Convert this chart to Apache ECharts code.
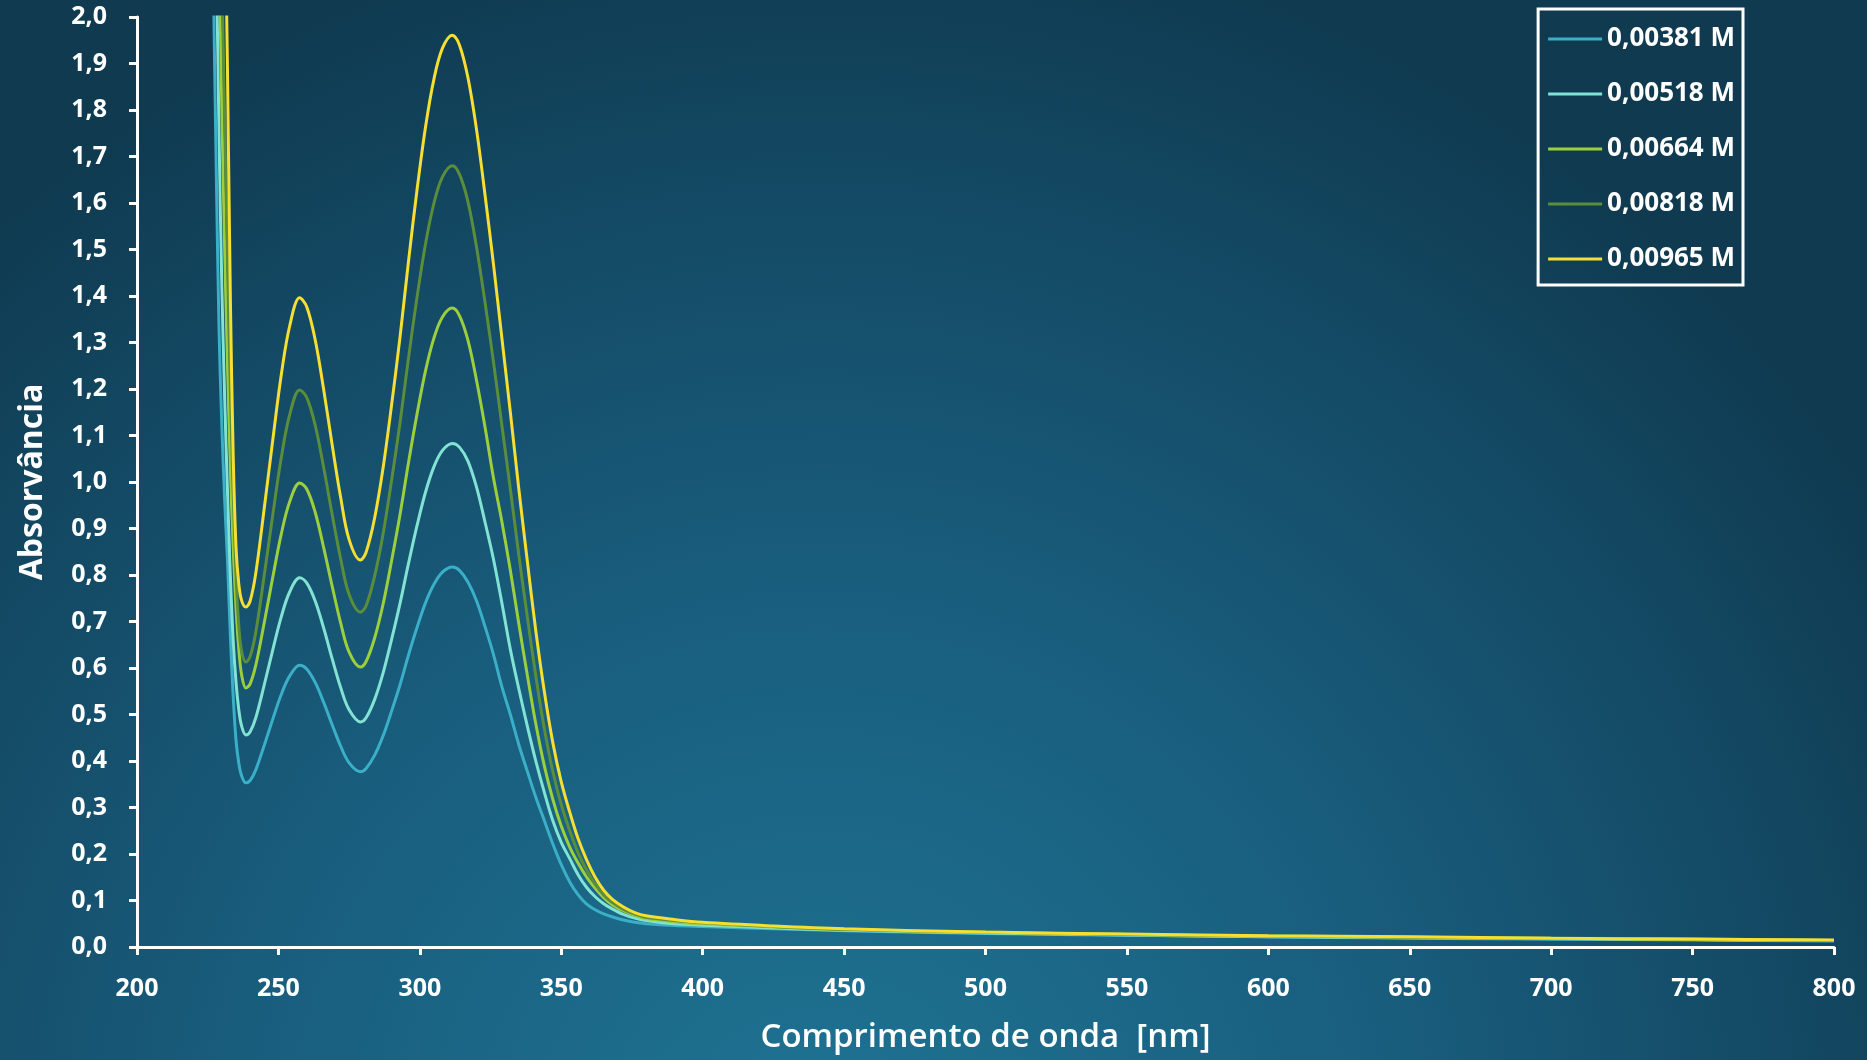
<!DOCTYPE html>
<html>
<head>
<meta charset="utf-8">
<script src="https://cdn.jsdelivr.net/npm/echarts@6/dist/echarts.min.js"></script>
<style>
html,body{margin:0;padding:0;width:100%;height:100%;overflow:hidden;}
#chart{width:1867px;height:1060px;}
</style>
</head>
<body>
<div id="chart"></div>
<script>
// wavelengths (nm)
const wavelengths = [226,227,228,229,230,231,232,233,234,235,236,237,238.5,240,242,245,248,251,254,257.5,260,263,266,269,272,275,279,281,284,287,290,293,296,299,302,305,308,311.5,314,317,320,323,326,329,332,335,338,341,344,347,350,353,356,359,362,365,368,372,376,380,390,400,425,450,500,550,600,650,700,750,800];

const seriesNames = ['0,00381 M','0,00518 M','0,00664 M','0,00818 M','0,00965 M'];

const abs00381 = [2.5,2.08,1.68,1.33,1.12,0.96,0.83,0.67,0.54,0.445,0.395,0.368,0.353,0.358,0.381,0.434,0.49,0.543,0.583,0.606,0.598,0.569,0.526,0.478,0.432,0.396,0.377,0.384,0.412,0.454,0.507,0.564,0.628,0.687,0.74,0.78,0.806,0.817,0.81,0.785,0.745,0.69,0.63,0.56,0.50,0.435,0.378,0.322,0.272,0.222,0.177,0.14,0.112,0.092,0.08,0.071,0.065,0.058,0.053,0.05,0.046,0.044,0.039,0.035,0.029,0.025,0.022,0.019,0.017,0.015,0.013];

const abs00518 = [3.0,2.5,2.15,1.75,1.42,1.18,0.98,0.8,0.66,0.57,0.51,0.475,0.456,0.463,0.493,0.564,0.639,0.71,0.764,0.794,0.783,0.744,0.686,0.62,0.558,0.51,0.484,0.493,0.532,0.589,0.661,0.739,0.825,0.906,0.978,1.033,1.068,1.083,1.075,1.045,0.99,0.915,0.835,0.74,0.64,0.555,0.475,0.40,0.333,0.272,0.225,0.19,0.155,0.128,0.108,0.093,0.082,0.07,0.062,0.057,0.05,0.047,0.041,0.036,0.03,0.026,0.022,0.02,0.018,0.016,0.014];

const abs00664 = [3.0,3.0,2.5,2.15,1.8,1.5,1.25,1.03,0.86,0.73,0.64,0.585,0.557,0.566,0.606,0.698,0.795,0.888,0.958,0.998,0.985,0.935,0.859,0.776,0.697,0.634,0.602,0.614,0.664,0.737,0.83,0.93,1.042,1.146,1.239,1.31,1.355,1.374,1.358,1.305,1.22,1.12,1.01,0.915,0.81,0.695,0.585,0.48,0.39,0.318,0.26,0.215,0.18,0.15,0.126,0.106,0.091,0.078,0.068,0.061,0.054,0.05,0.043,0.037,0.031,0.027,0.023,0.021,0.019,0.016,0.014];

const abs00818 = [3.0,3.0,3.0,2.45,2.1,1.78,1.48,1.2,0.98,0.8,0.69,0.635,0.613,0.625,0.677,0.8,0.929,1.052,1.145,1.198,1.182,1.122,1.031,0.93,0.835,0.758,0.72,0.734,0.797,0.888,1.003,1.128,1.267,1.397,1.512,1.6,1.656,1.68,1.662,1.603,1.507,1.388,1.26,1.122,0.985,0.843,0.71,0.583,0.47,0.378,0.306,0.25,0.202,0.165,0.135,0.112,0.096,0.081,0.071,0.064,0.057,0.052,0.044,0.038,0.032,0.027,0.024,0.021,0.019,0.017,0.014];

const abs00965 = [3.0,3.0,3.0,3.0,2.7,2.3,1.88,1.4,1.06,0.86,0.78,0.745,0.731,0.744,0.804,0.944,1.09,1.23,1.336,1.396,1.377,1.306,1.199,1.08,0.967,0.876,0.832,0.849,0.922,1.03,1.165,1.312,1.475,1.628,1.763,1.867,1.933,1.961,1.94,1.87,1.76,1.62,1.47,1.31,1.15,0.985,0.83,0.68,0.55,0.44,0.355,0.29,0.232,0.187,0.15,0.122,0.103,0.086,0.074,0.067,0.059,0.053,0.045,0.039,0.032,0.028,0.024,0.022,0.019,0.017,0.015];

const seriesValues = [abs00381, abs00518, abs00664, abs00818, abs00965];
const seriesColors = ['#3aafc7','#82e3d5','#9ccf3e','#5b8d3b','#f6df32'];

const FONT = '"Open Sans", Lato, sans-serif';

const chart = echarts.init(document.getElementById('chart'), null, {renderer:'canvas'});

const series = seriesNames.map((name, i) => ({
  name: name,
  type: 'line',
  data: wavelengths.map((w, k) => [w, seriesValues[i][k]]),
  showSymbol: false,
  smooth: 0.35,
  clip: true,
  lineStyle: {width: 3, color: seriesColors[i]},
  itemStyle: {color: seriesColors[i]},
  emphasis: {disabled: true},
  z: 2 + i
}));

chart.setOption({
  animation: false,
  backgroundColor: {
    type: 'radial', x: 820, y: 1160, r: 1250, global: true,
    colorStops: [
      {offset: 0, color: '#1f7494'},
      {offset: 0.45, color: '#195e7e'},
      {offset: 0.8, color: '#134862'},
      {offset: 1, color: '#0f3a50'}
    ]
  },
  grid: {left: 137, right: 33, top: 17, bottom: 113, containLabel: false, outerBoundsMode: 'none'},
  legend: {
    orient: 'vertical',
    right: 124,
    top: 9,
    padding: [16, 8, 12, 10],
    borderColor: '#ffffff',
    borderWidth: 3,
    icon: 'rect',
    itemWidth: 54,
    itemHeight: 3,
    itemGap: 27,
    textStyle: {color: '#ffffff', fontFamily: FONT, fontSize: 26, fontWeight: 'bold', lineHeight: 28},
    data: seriesNames
  },
  xAxis: {
    type: 'value',
    min: 200, max: 800, interval: 50,
    name: 'Comprimento de onda  [nm]',
    nameLocation: 'middle',
    nameGap: 74,
    nameTextStyle: {color: '#ffffff', fontFamily: FONT, fontSize: 33, fontWeight: 600},
    axisLine: {show: true, onZero: false, lineStyle: {color: '#ffffff', width: 3}},
    axisTick: {show: true, length: 8, lineStyle: {color: '#ffffff', width: 3}},
    axisLabel: {color: '#ffffff', fontFamily: FONT, fontSize: 25, fontWeight: 'bold', margin: 29},
    splitLine: {show: false}
  },
  yAxis: {
    type: 'value',
    min: 0, max: 2, interval: 0.1,
    name: 'Absorvância',
    nameLocation: 'middle',
    nameGap: 88,
    nameRotate: 90,
    nameTextStyle: {color: '#ffffff', fontFamily: FONT, fontSize: 32, fontWeight: 'bold'},
    axisLine: {show: true, lineStyle: {color: '#ffffff', width: 3}},
    axisTick: {show: true, length: 8, lineStyle: {color: '#ffffff', width: 3}},
    axisLabel: {
      color: '#ffffff', fontFamily: FONT, fontSize: 25, fontWeight: 'bold', margin: 30,
      formatter: v => v.toFixed(1).replace('.', ',')
    },
    splitLine: {show: false}
  },
  series: series
});
</script>
</body>
</html>
